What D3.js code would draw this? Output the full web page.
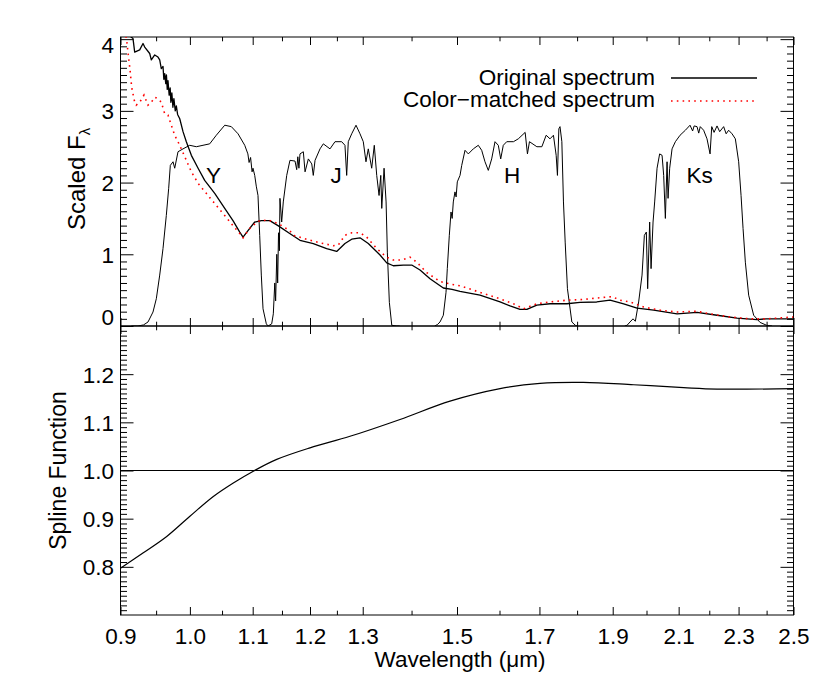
<!DOCTYPE html>
<html><head><meta charset="utf-8">
<script src="https://cdn.jsdelivr.net/npm/d3@7"></script>
<style>
body{margin:0;background:#fff}
text{font-family:"Liberation Sans",Arial,Helvetica,sans-serif;fill:#000}
</style></head>
<body><svg id="c" width="830" height="692"></svg>
<script>
// ---------- data ----------
const xMajor = [0.9,1.0,1.1,1.2,1.3,1.5,1.7,1.9,2.1,2.3,2.5];
const xMinor = [0.95,1.05,1.15,1.25,1.4,1.6,1.8,2.0,2.2,2.4];
const yTopMajor = [0,1,2,3,4];
const yBotMajor = [0.8,0.9,1.0,1.1,1.2];

const origSpec = [[0.900,4.40],[0.912,4.05],[0.9172,4.01],[0.9196,3.82],[0.9266,3.85],[0.9313,3.94],[0.9337,3.89],[0.9408,3.80],[0.9431,3.71],[0.9480,3.78],[0.9527,3.75],[0.9552,3.71],[0.9575,3.59],[0.9600,3.62],[0.9612,3.44],[0.9625,3.52],[0.9640,3.38],[0.9650,3.50],[0.9662,3.30],[0.9673,3.42],[0.9690,3.22],[0.9705,3.32],[0.9715,3.12],[0.9730,3.25],[0.9745,3.05],[0.9760,3.17],[0.9780,3.00],[0.9796,3.07],[0.9815,2.95],[0.9847,2.89],[0.9896,2.71],[0.9946,2.57],[1.0022,2.38],[1.0125,2.20],[1.0227,2.03],[1.0384,1.85],[1.0543,1.64],[1.0676,1.47],[1.0786,1.31],[1.0840,1.24],[1.0922,1.33],[1.1034,1.45],[1.1145,1.47],[1.1288,1.47],[1.1431,1.40],[1.1636,1.29],[1.1819,1.195],[1.2060,1.149],[1.2307,1.08],[1.2496,1.04],[1.2654,1.15],[1.2784,1.21],[1.2946,1.23],[1.3110,1.15],[1.3346,0.99],[1.3482,0.88],[1.3618,0.84],[1.3826,0.85],[1.4004,0.85],[1.4181,0.78],[1.4398,0.66],[1.4692,0.53],[1.4887,0.51],[1.5069,0.484],[1.5533,0.43],[1.6013,0.335],[1.6258,0.28],[1.6506,0.233],[1.6678,0.233],[1.6933,0.29],[1.7275,0.31],[1.7723,0.31],[1.808,0.33],[1.8544,0.335],[1.8923,0.36],[1.9318,0.31],[1.9715,0.25],[2.0218,0.22],[2.0949,0.17],[2.1594,0.19],[2.2260,0.15],[2.2946,0.11],[2.3654,0.09],[2.40,0.10],[2.5,0.10]];

const matchedSpec = [[0.900,4.60],[0.9065,4.10],[0.9085,3.98],[0.9107,3.78],[0.9131,3.57],[0.9154,3.33],[0.9189,3.15],[0.9218,3.08],[0.9266,3.12],[0.9327,3.22],[0.9384,3.08],[0.9431,3.12],[0.9480,3.19],[0.9527,3.17],[0.9575,3.12],[0.9625,2.96],[0.9673,2.94],[0.9722,2.80],[0.9772,2.66],[0.9821,2.57],[0.9870,2.47],[0.9946,2.31],[1.0022,2.15],[1.0125,1.99],[1.0252,1.85],[1.0409,1.68],[1.0543,1.54],[1.0676,1.40],[1.0786,1.29],[1.0840,1.23],[1.0950,1.36],[1.1089,1.46],[1.1258,1.48],[1.1431,1.43],[1.1636,1.33],[1.1700,1.265],[1.1940,1.21],[1.2184,1.16],[1.2432,1.12],[1.2527,1.13],[1.2654,1.265],[1.2784,1.30],[1.2946,1.30],[1.3078,1.24],[1.3279,1.08],[1.3482,0.96],[1.3618,0.92],[1.3793,0.92],[1.3968,0.96],[1.4111,0.89],[1.4327,0.745],[1.4618,0.62],[1.4887,0.58],[1.5069,0.56],[1.5533,0.47],[1.6013,0.38],[1.6342,0.31],[1.6592,0.24],[1.6933,0.31],[1.7275,0.335],[1.7723,0.36],[1.8171,0.37],[1.8544,0.39],[1.8980,0.41],[1.9212,0.36],[1.9506,0.335],[1.9913,0.265],[2.0415,0.22],[2.0949,0.195],[2.1594,0.205],[2.2026,0.17],[2.2703,0.125],[2.3404,0.10],[2.40,0.10],[2.5,0.125]];

const filterY = [[0.915,0],[0.9242,0],[0.9320,0.015],[0.9384,0.056],[0.9455,0.195],[0.9503,0.38],[0.9552,0.71],[0.9600,1.08],[0.9648,1.54],[0.9683,1.92],[0.9707,2.24],[0.9747,2.29],[0.9772,2.20],[0.9821,2.43],[0.9896,2.47],[0.9997,2.52],[1.0098,2.50],[1.0201,2.52],[1.0305,2.54],[1.0409,2.66],[1.0543,2.80],[1.0649,2.78],[1.0758,2.68],[1.0868,2.52],[1.0920,2.40],[1.0940,2.28],[1.0965,2.35],[1.0990,2.15],[1.1005,2.20],[1.1034,2.10],[1.1060,1.95],[1.1089,1.82],[1.1118,1.26],[1.1145,0.71],[1.1174,0.24],[1.1230,0.03],[1.1260,0.0]];

const filterJ = [[1.1260,0],[1.1322,0.03],[1.1350,0.17],[1.1375,0.6],[1.1390,0.35],[1.1410,1.0],[1.1425,0.6],[1.1440,1.3],[1.1455,1.05],[1.1465,1.78],[1.1495,1.45],[1.1523,1.73],[1.1583,2.10],[1.1640,2.31],[1.1730,2.30],[1.1760,2.18],[1.1780,2.36],[1.1800,2.20],[1.1819,2.40],[1.1879,2.43],[1.1910,2.15],[1.1970,2.33],[1.2032,2.26],[1.2060,2.10],[1.2092,2.31],[1.2184,2.47],[1.2245,2.54],[1.2370,2.47],[1.2464,2.57],[1.2591,2.57],[1.2654,2.52],[1.2687,2.10],[1.2718,2.57],[1.2784,2.68],[1.2868,2.80],[1.2946,2.68],[1.3011,2.57],[1.3064,2.29],[1.3110,2.47],[1.3178,2.20],[1.3230,2.52],[1.3279,2.10],[1.3326,1.82],[1.3361,2.10],[1.3381,1.64],[1.3428,2.20],[1.3469,1.73],[1.3495,1.03],[1.3536,0.33],[1.3586,0.01],[1.3690,0],[1.3750,0]];

const filterH = [[1.450,0],[1.4560,0.02],[1.4618,0.056],[1.4692,0.15],[1.4752,0.47],[1.4781,0.80],[1.4826,1.265],[1.4864,1.59],[1.4890,1.50],[1.4916,1.73],[1.4954,1.87],[1.4980,1.80],[1.5007,2.01],[1.5069,2.10],[1.5108,2.24],[1.5184,2.45],[1.5260,2.40],[1.5376,2.47],[1.5493,2.52],[1.5573,2.45],[1.5651,2.29],[1.5730,2.17],[1.5811,2.33],[1.5891,2.57],[1.5971,2.52],[1.6029,2.33],[1.6092,2.52],[1.6176,2.57],[1.6342,2.57],[1.6463,2.61],[1.6635,2.70],[1.6693,2.40],[1.6744,2.57],[1.6933,2.50],[1.7062,2.50],[1.7174,2.66],[1.7275,2.61],[1.7365,2.66],[1.7437,2.38],[1.7471,2.10],[1.7508,2.75],[1.7539,2.78],[1.7588,2.57],[1.7631,1.73],[1.7677,1.17],[1.7738,0.52],[1.7857,0.056],[1.7950,0.01],[1.800,0]];

const filterKs = [[1.935,0],[1.9417,0.01],[1.9506,0.056],[1.9595,0.10],[1.9664,0.066],[1.9763,0.335],[1.9865,0.71],[1.9935,1.265],[1.9995,1.31],[2.0035,0.52],[2.0096,1.45],[2.0139,0.80],[2.0200,1.45],[2.0249,1.73],[2.0323,2.20],[2.0403,2.40],[2.0478,2.38],[2.0528,2.10],[2.0581,1.50],[2.0634,2.29],[2.0665,1.78],[2.0716,2.20],[2.0791,2.47],[2.0896,2.57],[2.1045,2.66],[2.1216,2.73],[2.1366,2.80],[2.1450,2.72],[2.1500,2.79],[2.1594,2.78],[2.1650,2.69],[2.1700,2.78],[2.1812,2.73],[2.1924,2.61],[2.2026,2.40],[2.2082,2.78],[2.2160,2.70],[2.2260,2.79],[2.2350,2.71],[2.2485,2.78],[2.2570,2.68],[2.2656,2.73],[2.2773,2.68],[2.2888,2.61],[2.3003,2.29],[2.3087,1.82],[2.3157,1.36],[2.3238,0.89],[2.3355,0.43],[2.3533,0.15],[2.3763,0.05],[2.400,0.01],[2.420,0]];

const splineW = [0.9,0.9317,0.9654,1.0,1.0362,1.0681,1.1010,1.1409,1.2,1.2751,1.3757,1.4842,1.6013,1.7015,1.8171,1.9613,2.116,2.226,2.5];
const splineV = [0.797,0.829,0.863,0.905,0.946,0.974,0.9985,1.023,1.047,1.071,1.106,1.144,1.170,1.181,1.183,1.178,1.172,1.169,1.170];

const filterNames = ["Y","J","H","Ks"];
const filterLabelW = [1.0365,1.2483,1.6309,2.1676];
const legendNames = ["Original spectrum","Color\u2212matched spectrum"];

// ---------- layout ----------
const L=120.5, R=793.5, T1=37, B1=326, T2=326, B2=615;
const FS = 22.5;
const svg = d3.select("#c");
const x = d3.scaleLog().domain([0.9,2.5]).range([L,R]);
const yT = d3.scaleLinear().domain([0,4.03]).range([B1,T1]);
const yB = d3.scaleLinear().domain([0.7,1.3]).range([B2,T2]);

svg.append("defs").append("clipPath").attr("id","clipT")
  .append("rect").attr("x",L).attr("y",T1).attr("width",R-L).attr("height",B1-T1);
svg.select("defs").append("clipPath").attr("id","clipB")
  .append("rect").attr("x",L).attr("y",T2).attr("width",R-L).attr("height",B2-T2);

function styleAxis(g){
  g.select(".domain").remove();
  g.selectAll(".tick line").attr("stroke","#000").attr("stroke-width",1);
  g.selectAll(".tick text").style("font-size",FS+"px").attr("fill","#000");
}
function put(axis, tx, ty){
  const g = svg.append("g").attr("transform",`translate(${tx},${ty})`).call(axis);
  g.attr("font-family",null).attr("font-size",null);
  styleAxis(g);
  return g;
}
const none = ()=>"";
const minorTop = d3.range(1,41).map(i=>i/10).filter(v=>Math.abs(v-Math.round(v))>1e-6 && v<4.03);
const minorBot = d3.range(70,131).map(i=>i/100).filter(v=>Math.abs(v*10-Math.round(v*10))>1e-6);

// x axes
[[B1,"up"],[T1,"down"],[T2,"down"],[B2,"up"]].forEach(([yy,dir])=>{
  const mk = dir==="up" ? d3.axisTop : d3.axisBottom;
  put(mk(x).tickValues(xMajor).tickSizeOuter(0).tickSize(8).tickFormat(none),0,yy);
  put(mk(x).tickValues(xMinor).tickSizeOuter(0).tickSize(4.3).tickFormat(none),0,yy);
});
// bottom labels
put(d3.axisBottom(x).tickValues(xMajor).tickSizeInner(0).tickSizeOuter(0).tickPadding(13)
    .tickFormat(d3.format(".1f")),0,B2).selectAll(".tick line").remove();

// y axes top
const gl = put(d3.axisLeft(yT).tickValues(yTopMajor).tickSizeInner(-13).tickSizeOuter(0).tickPadding(6.5).tickFormat(d3.format("d")),L,0);
gl.selectAll(".tick text").attr("dy",d=> d===0 ? "-0.05em" : (d===4 ? "0.6em" : "0.35em"));
put(d3.axisLeft(yT).tickValues(minorTop).tickSizeInner(-6.5).tickSizeOuter(0).tickFormat(none),L,0);
put(d3.axisRight(yT).tickValues(yTopMajor).tickSizeInner(-13).tickSizeOuter(0).tickFormat(none),R,0);
put(d3.axisRight(yT).tickValues(minorTop).tickSizeInner(-6.5).tickSizeOuter(0).tickFormat(none),R,0);
// y axes bottom
const gb = put(d3.axisLeft(yB).tickValues(yBotMajor).tickSizeInner(-13).tickSizeOuter(0).tickPadding(6.5).tickFormat(d3.format(".1f")),L,0);
gb.selectAll(".tick text").attr("dy","0.35em");
put(d3.axisLeft(yB).tickValues(minorBot).tickSizeInner(-6.5).tickSizeOuter(0).tickFormat(none),L,0);
put(d3.axisRight(yB).tickValues(yBotMajor).tickSizeInner(-13).tickSizeOuter(0).tickFormat(none),R,0);
put(d3.axisRight(yB).tickValues(minorBot).tickSizeInner(-6.5).tickSizeOuter(0).tickFormat(none),R,0);

// frames
svg.append("rect").attr("x",L).attr("y",T1).attr("width",R-L).attr("height",B1-T1)
  .attr("fill","none").attr("stroke","#000").attr("stroke-width",1);
svg.append("rect").attr("x",L).attr("y",T2).attr("width",R-L).attr("height",B2-T2)
  .attr("fill","none").attr("stroke","#000").attr("stroke-width",1);

// ---------- top panel curves ----------
const lineT = d3.line().x(d=>x(d[0])).y(d=>yT(d[1]));
const gT = svg.append("g").attr("clip-path","url(#clipT)");
[filterY,filterJ,filterH,filterKs].forEach(f=>{
  gT.append("path").attr("d",lineT(f)).attr("fill","none").attr("stroke","#000").attr("stroke-width",1);
});
gT.append("path").attr("d",lineT(origSpec)).attr("fill","none").attr("stroke","#000").attr("stroke-width",1.3).attr("stroke-linejoin","round");
gT.append("path").attr("d",lineT(matchedSpec)).attr("fill","none").attr("stroke","#ff0000").attr("stroke-width",1.6)
  .attr("stroke-dasharray","1.6,4.2");

// filter labels
svg.selectAll("text.flab").data(filterNames).join("text").attr("class","flab")
  .attr("x",(d,i)=>x(filterLabelW[i])).attr("y",yT(2.0)).attr("text-anchor","middle")
  .style("font-size",FS+"px").text(d=>d);

// legend
const legY = [85,107];
legendNames.forEach((n,i)=>{
  svg.append("text").attr("x",655).attr("y",legY[i]).attr("text-anchor","end").style("font-size",FS+"px").text(n);
});
svg.append("line").attr("x1",671).attr("x2",757).attr("y1",78).attr("y2",78).attr("stroke","#000").attr("stroke-width",1.3);
svg.append("line").attr("x1",671).attr("x2",757).attr("y1",101).attr("y2",101).attr("stroke","#ff0000").attr("stroke-width",1.6).attr("stroke-dasharray","1.6,4.2");

// ---------- bottom panel ----------
const gB = svg.append("g").attr("clip-path","url(#clipB)");
gB.append("line").attr("x1",L).attr("x2",R).attr("y1",yB(1.0)).attr("y2",yB(1.0)).attr("stroke","#000").attr("stroke-width",1.2);
const lineB = d3.line().x((d,i)=>x(splineW[i])).y((d,i)=>yB(splineV[i])).curve(d3.curveCatmullRom);
gB.append("path").attr("d",lineB(splineW)).attr("fill","none").attr("stroke","#000").attr("stroke-width",1.2);

// ---------- titles ----------
svg.append("text").attr("x",460).attr("y",667).attr("text-anchor","middle").style("font-size",FS+"px").text("Wavelength (\u03bcm)");
const st = svg.append("text").attr("transform","translate(85,230) rotate(-90)").style("font-size","24px");
st.append("tspan").text("Scaled F");
st.append("tspan").attr("dy",5).style("font-size","15px").text("\u03bb");
svg.append("text").attr("transform",`translate(66,${(T2+B2)/2}) rotate(-90)`).attr("text-anchor","middle")
  .style("font-size","23px").text("Spline Function");
</script></body></html>
